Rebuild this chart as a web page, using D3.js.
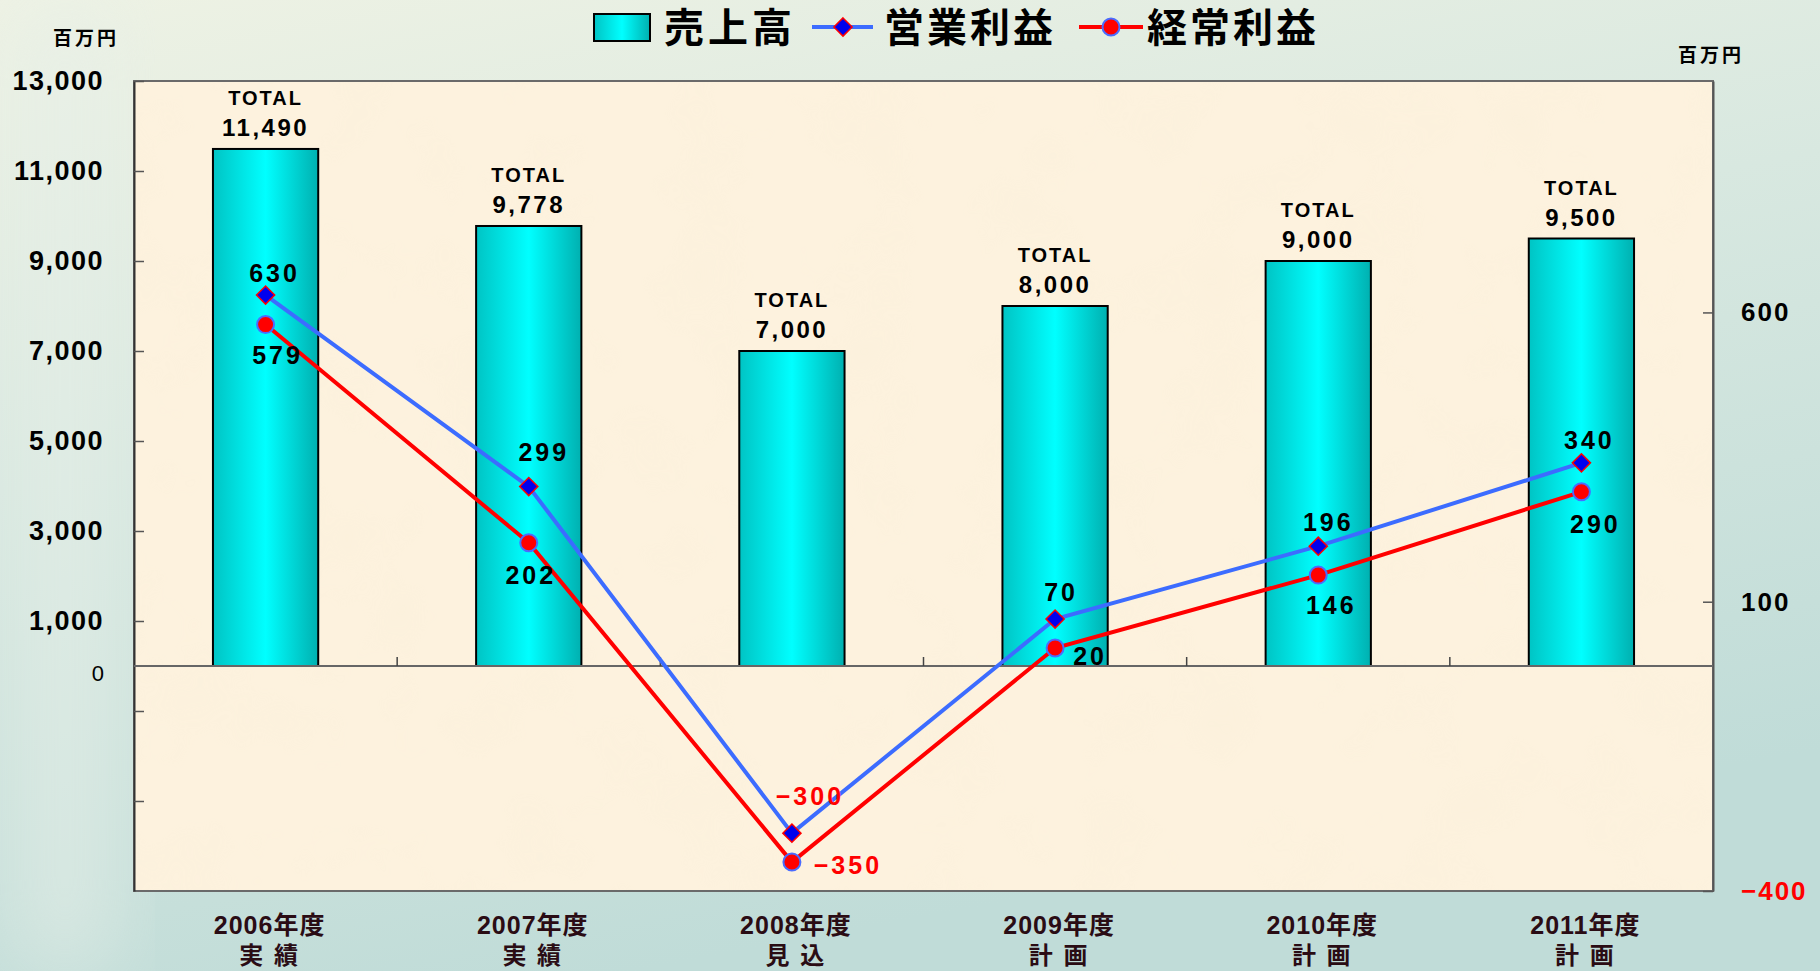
<!DOCTYPE html>
<html>
<head>
<meta charset="utf-8">
<script src="https://cdn.jsdelivr.net/npm/d3@7"></script>
<style>
  html, body { margin: 0; padding: 0; overflow: hidden; }
  svg { display: block; }
  text { font-family: "Liberation Sans", "Noto Sans CJK JP", sans-serif; font-weight: bold; }
</style>
</head>
<body>
<div class="chart"></div>
<script>
// data
var years = ["2006年度", "2007年度", "2008年度", "2009年度", "2010年度", "2011年度"];
var stages = ["実 績", "実 績", "見 込", "計 画", "計 画", "計 画"];
var sales = [11490, 9778, 7000, 8000, 9000, 9500];          // 売上高
var opProfit = [630, 299, -300, 70, 196, 340];              // 営業利益
var ordProfit = [579, 202, -350, 20, 146, 290];             // 経常利益
var leftTicks = [-3000, -1000, 1000, 3000, 5000, 7000, 9000, 11000, 13000];
var rightTicks = [-400, 100, 600];

var w = 1820, h = 971;
var plotL = 134, plotR = 1713, plotT = 81, plotB = 891;

var svg = d3.select(".chart").append("svg")
  .attr("width", w)
  .attr("height", h);

var defs = svg.append("defs");

var bg = defs.append("linearGradient").attr("id", "bg")
  .attr("x1", 0).attr("y1", 0).attr("x2", 0.35).attr("y2", 1);
bg.append("stop").attr("offset", "0%").attr("stop-color", "#eef2e4");
bg.append("stop").attr("offset", "45%").attr("stop-color", "#d8e8e0");
bg.append("stop").attr("offset", "100%").attr("stop-color", "#c0dcd8");

var barGrad = defs.append("linearGradient").attr("id", "barGrad")
  .attr("x1", 0).attr("y1", 0).attr("x2", 1).attr("y2", 0);
barGrad.append("stop").attr("offset", "0%").attr("stop-color", "#00c4c4");
barGrad.append("stop").attr("offset", "50%").attr("stop-color", "#00ffff");
barGrad.append("stop").attr("offset", "100%").attr("stop-color", "#00b0b0");

var soft = defs.append("filter").attr("id", "soft")
  .attr("x", "-50%").attr("y", "-50%").attr("width", "200%").attr("height", "200%");
soft.append("feGaussianBlur").attr("stdDeviation", 40);

// mottled paper texture for the plot area
var paper = defs.append("filter").attr("id", "paper")
  .attr("x", 0).attr("y", 0).attr("width", "100%").attr("height", "100%");
paper.append("feTurbulence")
  .attr("type", "fractalNoise")
  .attr("baseFrequency", 0.012)
  .attr("numOctaves", 3)
  .attr("seed", 4);
paper.append("feColorMatrix")
  .attr("type", "matrix")
  .attr("values", "0 0 0 0 0.93  0 0 0 0 0.84  0 0 0 0 0.68  0 0 0 -1.4 0.75");

// background
svg.append("rect").attr("width", w).attr("height", h).attr("fill", "url(#bg)");
svg.append("rect").attr("x", 20).attr("y", 0).attr("width", 90).attr("height", h)
  .attr("fill", "#e6efe8").attr("opacity", 0.6).attr("filter", "url(#soft)");

// plot area
svg.append("rect")
  .attr("x", plotL).attr("y", plotT)
  .attr("width", plotR - plotL).attr("height", plotB - plotT)
  .attr("fill", "#fdf2de");
svg.append("rect")
  .attr("x", plotL).attr("y", plotT)
  .attr("width", plotR - plotL).attr("height", plotB - plotT)
  .attr("filter", "url(#paper)")
  .attr("opacity", 0.35);
svg.append("rect")
  .attr("x", plotL).attr("y", plotT)
  .attr("width", plotR - plotL).attr("height", plotB - plotT)
  .attr("fill", "none")
  .attr("stroke", "#6a6a6a")
  .attr("stroke-width", 2);

var xScale = d3.scaleBand()
  .domain(years)
  .range([plotL, plotR])
  .paddingInner(0.6)
  .paddingOuter(0.3);

var yLeft = d3.scaleLinear().domain([-5000, 13000]).range([plotB, plotT]);
var yRight = d3.scaleLinear().domain([-400, 1000]).range([plotB, plotT]);

// left axis
var leftAxis = d3.axisLeft(yLeft)
  .tickValues(leftTicks)
  .tickSizeInner(-10)
  .tickSizeOuter(0)
  .tickPadding(30)
  .tickFormat(function(d) { return d > 0 ? d3.format(",")(d) : ""; });

var gL = svg.append("g")
  .attr("transform", "translate(" + plotL + ",0)")
  .call(leftAxis);
gL.select(".domain").attr("stroke", "#333").attr("stroke-width", 2);
gL.selectAll(".tick line").attr("stroke", "#555").attr("stroke-width", 1.5);
gL.selectAll("text")
  .style("font-size", "27px")
  .style("letter-spacing", "1.5px")
  .attr("fill", "#000");

svg.append("text")
  .attr("x", 104).attr("y", yLeft(0) + 7)
  .attr("text-anchor", "end")
  .attr("dy", "0.35em")
  .style("font-size", "22px")
  .style("font-weight", "normal")
  .text("0");

// right axis
var rightAxis = d3.axisRight(yRight)
  .tickValues(rightTicks)
  .tickSizeInner(-10)
  .tickSizeOuter(0)
  .tickPadding(28);

var gR = svg.append("g")
  .attr("transform", "translate(" + plotR + ",0)")
  .call(rightAxis);
gR.select(".domain").attr("stroke", "#555").attr("stroke-width", 2);
gR.selectAll(".tick line").attr("stroke", "#555").attr("stroke-width", 1.5);
gR.selectAll("text")
  .style("font-size", "26px")
  .style("letter-spacing", "2px")
  .attr("fill", function(d) { return d < 0 ? "#ff0000" : "#000"; })
  .text(function(d) { return d < 0 ? "\u2212" + Math.abs(d) : d; });

// unit labels
svg.append("text")
  .attr("x", 86).attr("y", 38)
  .attr("text-anchor", "middle")
  .attr("dy", "0.35em")
  .style("font-size", "19px")
  .style("letter-spacing", "3px")
  .text("百万円");

svg.append("text")
  .attr("x", 1711).attr("y", 55)
  .attr("text-anchor", "middle")
  .attr("dy", "0.35em")
  .style("font-size", "19px")
  .style("letter-spacing", "3px")
  .text("百万円");

// bars
svg.selectAll(".bar")
  .data(sales)
  .enter()
  .append("rect")
  .attr("class", "bar")
  .attr("x", function(d, i) { return xScale(years[i]); })
  .attr("y", function(d) { return yLeft(d); })
  .attr("width", xScale.bandwidth())
  .attr("height", function(d) { return yLeft(0) - yLeft(d); })
  .attr("fill", "url(#barGrad)")
  .attr("stroke", "#000")
  .attr("stroke-width", 2);

// zero line with category ticks
svg.append("line")
  .attr("x1", plotL).attr("x2", plotR)
  .attr("y1", yLeft(0)).attr("y2", yLeft(0))
  .attr("stroke", "#666").attr("stroke-width", 2);

var step = xScale.step();
svg.selectAll(".ctick")
  .data(years.slice(1))
  .enter()
  .append("line")
  .attr("x1", function(d) { return xScale(d) - step * 0.3; })
  .attr("x2", function(d) { return xScale(d) - step * 0.3; })
  .attr("y1", yLeft(0))
  .attr("y2", yLeft(0) - 9)
  .attr("stroke", "#444").attr("stroke-width", 1.5);

// bar labels
svg.selectAll(".totalLbl")
  .data(sales)
  .enter()
  .append("text")
  .attr("x", function(d, i) { return xScale(years[i]) + xScale.bandwidth() / 2; })
  .attr("y", function(d) { return yLeft(d) - 51; })
  .attr("text-anchor", "middle")
  .attr("dy", "0.35em")
  .style("font-size", "20px")
  .style("letter-spacing", "2px")
  .text("TOTAL");

svg.selectAll(".salesLbl")
  .data(sales)
  .enter()
  .append("text")
  .attr("x", function(d, i) { return xScale(years[i]) + xScale.bandwidth() / 2; })
  .attr("y", function(d) { return yLeft(d) - 21; })
  .attr("text-anchor", "middle")
  .attr("dy", "0.35em")
  .style("font-size", "24px")
  .style("letter-spacing", "2.5px")
  .text(function(d) { return d3.format(",")(d); });

// lines
function cx(i) { return xScale(years[i]) + xScale.bandwidth() / 2; }

var profitLine = d3.line()
  .x(function(d, i) { return cx(i); })
  .y(function(d) { return yRight(d); });

svg.append("path")
  .datum(ordProfit)
  .attr("fill", "none")
  .attr("stroke", "#ff0000")
  .attr("stroke-width", 4)
  .attr("d", profitLine);

svg.append("path")
  .datum(opProfit)
  .attr("fill", "none")
  .attr("stroke", "#3c6cff")
  .attr("stroke-width", 4)
  .attr("d", profitLine);

var diamond = d3.symbol().type(d3.symbolDiamond2).size(210);

svg.selectAll(".opDot")
  .data(opProfit)
  .enter()
  .append("path")
  .attr("class", "opDot")
  .attr("transform", function(d, i) { return "translate(" + cx(i) + "," + yRight(d) + ")"; })
  .attr("d", diamond)
  .attr("fill", "#0000ee")
  .attr("stroke", "#ff0000")
  .attr("stroke-width", 1.5);

svg.selectAll(".ordDot")
  .data(ordProfit)
  .enter()
  .append("circle")
  .attr("class", "ordDot")
  .attr("cx", function(d, i) { return cx(i); })
  .attr("cy", function(d) { return yRight(d); })
  .attr("r", 8.5)
  .attr("fill", "#ff0000")
  .attr("stroke", "#4a6cff")
  .attr("stroke-width", 2);

// point label offsets from the marker
var opOffset = [[9, -22], [15, -34], [18, -37], [6, -27], [10, -24], [8, -23]];
var ordOffset = [[12, 31], [2, 33], [56, 3], [35, 8], [13, 30], [14, 32]];

function fmt(d) { return d < 0 ? "\u2212" + Math.abs(d) : String(d); }

function pointLabels(values, offsets) {
  svg.append("g").selectAll("text")
    .data(values)
    .enter()
    .append("text")
    .attr("x", function(d, i) { return cx(i) + offsets[i][0]; })
    .attr("y", function(d, i) { return yRight(d) + offsets[i][1]; })
    .attr("text-anchor", "middle")
    .attr("dy", "0.35em")
    .style("font-size", "25px")
    .style("letter-spacing", "3px")
    .attr("fill", function(d) { return d < 0 ? "#ff0000" : "#000"; })
    .text(fmt);
}
pointLabels(opProfit, opOffset);
pointLabels(ordProfit, ordOffset);

// category labels
svg.selectAll(".yearLbl")
  .data(years)
  .enter()
  .append("text")
  .attr("x", function(d, i) { return cx(i) + 4; })
  .attr("y", 925)
  .attr("text-anchor", "middle")
  .attr("dy", "0.35em")
  .attr("fill", "#2a0c14")
  .style("font-size", "25px")
  .style("letter-spacing", "1px")
  .text(function(d) { return d; });

svg.selectAll(".stageLbl")
  .data(stages)
  .enter()
  .append("text")
  .attr("x", function(d, i) { return cx(i) + 4; })
  .attr("y", 956)
  .attr("text-anchor", "middle")
  .attr("dy", "0.35em")
  .attr("fill", "#2a0c14")
  .style("font-size", "24px")
  .style("letter-spacing", "2px")
  .text(function(d) { return d; });

// legend
var legend = svg.append("g");

legend.append("rect")
  .attr("x", 594).attr("y", 14)
  .attr("width", 56).attr("height", 27)
  .attr("fill", "url(#barGrad)")
  .attr("stroke", "#000").attr("stroke-width", 2);

legend.append("text")
  .attr("x", 664).attr("y", 28)
  .attr("dominant-baseline", "central")
  .style("font-size", "40px")
  .style("letter-spacing", "4px")
  .text("売上高");

legend.append("line")
  .attr("x1", 812).attr("x2", 873).attr("y1", 27).attr("y2", 27)
  .attr("stroke", "#3c6cff").attr("stroke-width", 4);
legend.append("path")
  .attr("transform", "translate(843,27)")
  .attr("d", diamond)
  .attr("fill", "#0000ee")
  .attr("stroke", "#ff0000")
  .attr("stroke-width", 1.5);

legend.append("text")
  .attr("x", 884).attr("y", 28)
  .attr("dominant-baseline", "central")
  .style("font-size", "40px")
  .style("letter-spacing", "3px")
  .text("営業利益");

legend.append("line")
  .attr("x1", 1079).attr("x2", 1143).attr("y1", 27).attr("y2", 27)
  .attr("stroke", "#ff0000").attr("stroke-width", 4);
legend.append("circle")
  .attr("cx", 1111).attr("cy", 27).attr("r", 8.5)
  .attr("fill", "#ff0000")
  .attr("stroke", "#4a6cff").attr("stroke-width", 2);

legend.append("text")
  .attr("x", 1147).attr("y", 28)
  .attr("dominant-baseline", "central")
  .style("font-size", "40px")
  .style("letter-spacing", "3px")
  .text("経常利益");
</script>
</body>
</html>
